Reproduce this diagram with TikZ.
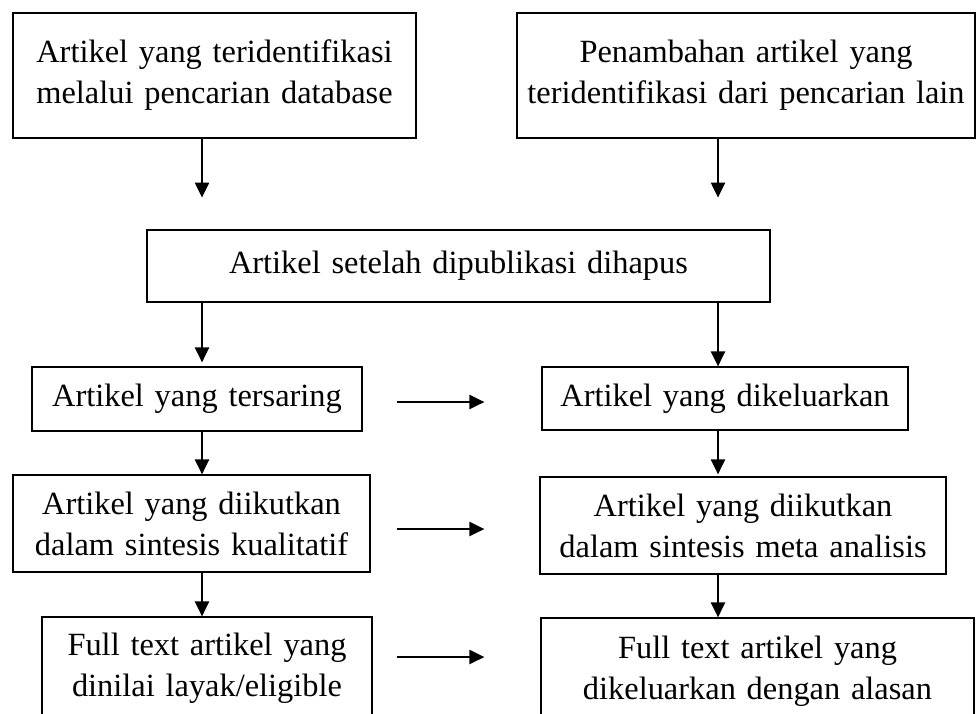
\documentclass[tikz,border=0pt]{standalone}
\usepackage{fontspec}
\setmainfont{Liberation Serif}[WordSpace=0.75]
\usetikzlibrary{arrows.meta}

\begin{document}
\begin{tikzpicture}[x=0.5pt,y=-0.5pt,
        box/.style={draw, line width=0.6pt, inner sep=0pt, align=center,
            font=\fontsize{16.2pt}{20.5pt}\selectfont},
        arr/.style={-{Triangle[length=7.5pt,width=7pt]}, line width=1.1pt}]
        \useasboundingbox (0,0) rectangle (977,713);
        \clip (0,0) rectangle (977,713);
        \coordinate (colL) at (202,0);
        \coordinate (colR) at (718,0);
        % identifikasi
        \node[box, minimum width=201.5pt, minimum height=62.5pt, text width=190pt] (idDb) at (214.5,75.5)
            {Artikel yang teridentifikasi\\melalui pencarian database\par\vspace{9pt}};
        \node[box, minimum width=229pt, minimum height=62.5pt, text width=222pt] (idLain) at (746,75.5)
            {Penambahan artikel yang\\teridentifikasi dari pencarian lain\par\vspace{9pt}};
        \node[box, minimum width=311.5pt, minimum height=36pt, text width=290pt] (hapus) at (458.5,266)
            {Artikel setelah dipublikasi dihapus};
        % penyaringan
        \node[box, minimum width=165pt, minimum height=32pt, text width=155pt] (saring) at (197,399)
            {Artikel yang tersaring};
        \node[box, minimum width=183pt, minimum height=31.5pt, text width=175pt] (keluar) at (725,398.5)
            {Artikel yang dikeluarkan};
        \node[box, minimum width=178.5pt, minimum height=48.5pt, text width=170pt] (kualitatif) at (191.5,523.5)
            {Artikel yang diikutkan\\dalam sintesis kualitatif};
        \node[box, minimum width=203pt, minimum height=48.5pt, text width=195pt] (meta) at (743,525.5)
            {Artikel yang diikutkan\\dalam sintesis meta analisis};
        \node[box, minimum width=165pt, minimum height=51pt, text width=155pt] (eligible) at (207,668)
            {Full text artikel yang\\dinilai layak/eligible};
        \node[box, minimum width=216.5pt, minimum height=53pt, text width=210pt] (alasan) at (757.5,671)
            {Full text artikel yang\\dikeluarkan dengan alasan};
        % panah
        \draw[arr] (idDb.south -| colL) -- ++(0,59);
        \draw[arr] (idLain.south -| colR) -- ++(0,59);
        \draw[arr] (hapus.south -| colL) -- ([yshift=2pt]saring.north -| colL);
        \draw[arr] (hapus.south -| colR) -- (keluar.north -| colR);
        \draw[arr] (saring.south -| colL) -- (kualitatif.north -| colL);
        \draw[arr] (keluar.south -| colR) -- ([yshift=1pt]meta.north -| colR);
        \draw[arr] (kualitatif.south -| colL) -- (eligible.north -| colL);
        \draw[arr] (meta.south -| colR) -- (alasan.north -| colR);
        \draw[arr, shorten <=17pt, shorten >=28.5pt] ([yshift=-1.5pt]saring.east) -- ([yshift=-1.5pt]saring.east -| keluar.west);
        \draw[arr, shorten <=13pt, shorten >=27.5pt] ([yshift=-2.75pt]kualitatif.east) -- ([yshift=-2.75pt]kualitatif.east -| meta.west);
        \draw[arr, shorten <=12pt, shorten >=28pt] ([yshift=5.5pt]eligible.east) -- ([yshift=5.5pt]eligible.east -| alasan.west);
    \end{tikzpicture}
\end{document}
